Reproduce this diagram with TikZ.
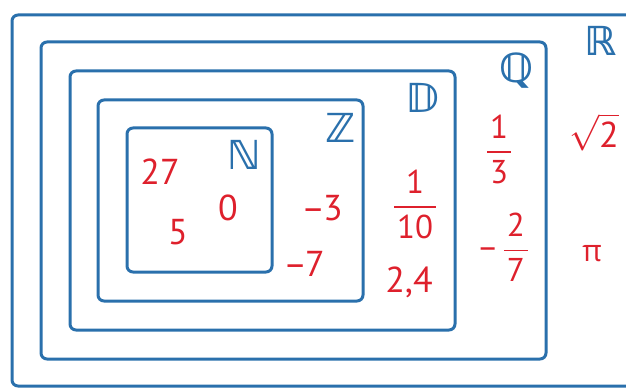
\RequirePackage{fix-cm}
\documentclass[tikz,border=0pt]{standalone}
\usepackage{amsmath,amssymb}
\usepackage{fontspec}
\setmainfont{PT Sans}
\newfontfamily\grkfont{Open Sans}
\newfontfamily\dsfont{DejaVu Sans Bold}
\definecolor{setblue}{RGB}{42,112,172}
\definecolor{numred}{RGB}{222,32,44}
\newcommand{\myfrac}[2]{$\displaystyle\frac{\hspace{3pt}\text{#1}\hspace{3pt}}{\hspace{3pt}\text{#2}\hspace{3pt}}$}
\begin{document}
\begin{tikzpicture}[x=1pt,y=-1pt,
  setbox/.style={draw=setblue, line width=3pt, rounded corners=6pt},
  setname/.style={text=setblue, font=\dsfont\fontsize{40}{44}\selectfont, inner sep=0pt},
  num/.style={text=numred, font=\fontsize{36}{40}\selectfont, inner sep=0pt},
  fracnum/.style={text=numred, font=\fontsize{33}{36}\selectfont, inner sep=0pt}]
\useasboundingbox (0,0) rectangle (626,390);
\clip (0,0) rectangle (626,390);
% nested sets
\draw[setbox] (12,15) rectangle (680,386);
\draw[setbox] (41,42) rectangle (546,359);
\draw[setbox] (70,71) rectangle (455,330);
\draw[setbox] (98,100) rectangle (363,301);
\draw[setbox] (127,128) rectangle (272,272);
% set names
\node[setname] (R) at (601,41) {ℝ};
\node[setname] (Q) at (516,71) {ℚ};
\node[setname] (D) at (423,98) {𝔻};
\node[setname] (Z) at (341,128) {ℤ};
\node[setname] (N) at (244,155) {ℕ};
% elements
\node[num] (n27) at (160,172) {27};
\node[num] (n5) at (178,232) {5};
\node[num] (n0) at (228,208) {0};
\node[num] (m3) at (322,208) {–\kern-2pt3};
\node[num] (m7) at (304,264) {–\kern-2pt7};
\node[fracnum] (d110) at (415,204) {\myfrac{1}{10}};
\node[num] (d24) at (409,282) {2,4};
\node[fracnum] (q13) at (499,149) {\myfrac{1}{3}};
\node[fracnum] (q27) at (503,247) {–\hspace{4pt}\myfrac{2}{7}};
\node[num] (r2) at (594,132) {$\sqrt{\text{2}}$};
\node[num] (pi) at (592,254) {\grkfont\fontsize{30}{36}\selectfont π};
\end{tikzpicture}
\end{document}
